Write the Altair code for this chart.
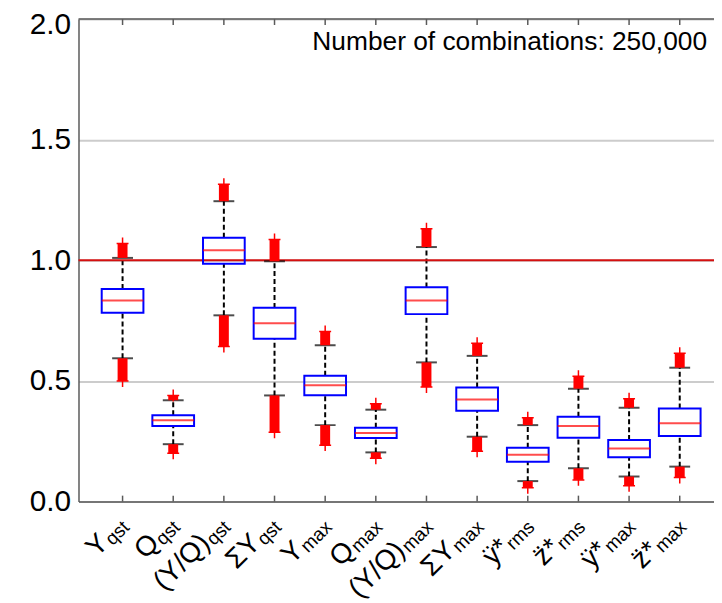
import altair as alt
import pandas as pd

# ---------------- data ----------------
main_labels = ["Y", "Q", "(Y/Q)", "ΣY", "Y", "Q", "(Y/Q)", "ΣY", "ÿ*", "z\u0308*", "ÿ*", "z\u0308*"]
sub_labels = ["qst", "qst", "qst", "qst", "max", "max", "max", "max", "rms", "rms", "max", "max"]
outlier_low = [0.50, 0.20, 0.643, 0.287, 0.234, 0.18, 0.475, 0.209, 0.057, 0.09, 0.066, 0.10]
whisker_low = [0.594, 0.238, 0.772, 0.44, 0.317, 0.204, 0.577, 0.269, 0.085, 0.138, 0.104, 0.145]
q1 = [0.783, 0.313, 0.986, 0.675, 0.441, 0.264, 0.777, 0.377, 0.165, 0.265, 0.184, 0.272]
median = [0.833, 0.337, 1.042, 0.739, 0.482, 0.284, 0.833, 0.423, 0.194, 0.313, 0.22, 0.325]
q3 = [0.881, 0.358, 1.094, 0.803, 0.522, 0.306, 0.888, 0.473, 0.223, 0.352, 0.255, 0.386]
whisker_high = [1.01, 0.42, 1.245, 0.996, 0.648, 0.381, 1.055, 0.604, 0.317, 0.468, 0.389, 0.555]
outlier_high = [1.07, 0.44, 1.315, 1.086, 0.705, 0.406, 1.131, 0.656, 0.348, 0.52, 0.426, 0.615]
y_ticks = [0.0, 0.5, 1.0, 1.5, 2.0]
reference_level = [1.0]
note = ["Number of combinations: 250,000"]

# ---------------- layout / style ----------------
W, H = 640, 486
TOP = 9
STEP = 51.82                      # pixels between categories
x_lo = 1 - 40 / STEP
x_hi = x_lo + W / STEP
FONT = "Arial, Liberation Sans, sans-serif"
AXIS_GRAY = "#5a5a5a"
MAIN_SIZE = 28
SUB_SIZE = 19
CHAR_EM = {"q": 0.556, "s": 0.5, "t": 0.278, "m": 0.833, "a": 0.556, "x": 0.5, "r": 0.333}

n = len(main_labels)
df = pd.DataFrame({
    "pos": list(range(1, n + 1)),
    "main": main_labels,
    "sub": sub_labels,
    "lo": outlier_low,
    "wl": whisker_low,
    "q1": q1,
    "med": median,
    "q3": q3,
    "wh": whisker_high,
    "hi": outlier_high,
})

xs = alt.Scale(domain=[x_lo, x_hi], nice=False, zero=False)
ys = alt.Scale(domain=[0, 2], nice=False, zero=False)
x_axis = alt.Axis(labels=False, ticks=False, grid=False, domain=True,
                  domainColor=AXIS_GRAY, domainWidth=1.5, title=None)
y_axis = alt.Axis(values=y_ticks, format=".1f", labelFontSize=30, labelFont=FONT,
                  labelColor="black", labelPadding=8, ticks=False, grid=True,
                  labelOffset=alt.condition("datum.value >= 2", alt.value(6), alt.value(0)),
                  gridColor="#cccccc", gridWidth=2, domain=True,
                  domainColor=AXIS_GRAY, domainWidth=1.5, title=None)
X = alt.X("pos:Q", scale=xs, axis=x_axis)


def Y(field):
    return alt.Y(field, scale=ys, axis=y_axis)


base = alt.Chart(df)

whisk_lo = base.mark_rule(color="black", strokeWidth=2, strokeDash=[5, 3]).encode(
    x=X, y=Y("wl:Q"), y2="q1:Q")
whisk_hi = base.mark_rule(color="black", strokeWidth=2, strokeDash=[5, 3]).encode(
    x=X, y=Y("q3:Q"), y2="wh:Q")

ref_line = alt.Chart(pd.DataFrame({"ref": reference_level})).mark_rule(
    color="#d41010", strokeWidth=2).encode(y=Y("ref:Q"))

boxes = base.mark_bar(width=42, fill="white", fillOpacity=0, stroke="#0000ff", strokeWidth=2).encode(
    x=X, y=Y("q1:Q"), y2="q3:Q")
medians = base.mark_tick(orient="horizontal", size=42, thickness=2, color="#ff0000").encode(
    x=X, y=Y("med:Q"))
cap_lo = base.mark_tick(orient="horizontal", size=21, thickness=2, color="black").encode(
    x=X, y=Y("wl:Q"))
cap_hi = base.mark_tick(orient="horizontal", size=21, thickness=2, color="black").encode(
    x=X, y=Y("wh:Q"))

out_lo = base.mark_bar(width=10, color="#ff0000").encode(x=X, y=Y("lo:Q"), y2="wl:Q")
out_hi = base.mark_bar(width=10, color="#ff0000").encode(x=X, y=Y("wh:Q"), y2="hi:Q")
PLUS = "M-1,0L1,0M0,-1L0,1"
plus_lo = base.mark_point(shape=PLUS, size=144, filled=False, stroke="#ff0000", strokeWidth=1.5,
                          opacity=1).encode(x=X, y=Y("lo:Q"))
plus_hi = base.mark_point(shape=PLUS, size=144, filled=False, stroke="#ff0000", strokeWidth=1.5,
                          opacity=1).encode(x=X, y=Y("hi:Q"))

one = alt.Chart(pd.DataFrame({"k": [0]}))
top_border = one.mark_rule(color=AXIS_GRAY, strokeWidth=1.5).encode(
    x=alt.value(0), x2=alt.value(W), y=alt.value(0))
ticks_top = base.mark_rule(color=AXIS_GRAY, strokeWidth=1.5).encode(
    x=X, y=alt.value(0), y2=alt.value(6))
ticks_bot = base.mark_rule(color=AXIS_GRAY, strokeWidth=1.5).encode(
    x=X, y=alt.value(H), y2=alt.value(H - 6))

note_text = alt.Chart(pd.DataFrame({"note": note})).mark_text(
    align="right", baseline="alphabetic", fontSize=26.5, font=FONT, color="black").encode(
    x=alt.value(633), y=alt.value(31), text="note:N")

# rotated tick labels with subscripts
c = 0.70710678
sx, sy = 8, 27                      # screen offset of subscript end from tick/axis
dx_sub = c * (sx - sy)
dy_sub = c * (sx + sy)
label_layers = []
for i in range(n):
    row = alt.Chart(df.iloc[[i]])
    w_sub = sum(CHAR_EM[ch] for ch in sub_labels[i]) * SUB_SIZE
    label_layers.append(row.mark_text(align="right", baseline="alphabetic", angle=315, fontSize=SUB_SIZE,
                                      font=FONT, color="black", dx=dx_sub, dy=dy_sub).encode(
        x=X, y=alt.value(H), text="sub:N"))
    label_layers.append(row.mark_text(align="right", baseline="alphabetic", angle=315, fontSize=MAIN_SIZE,
                                      font=FONT, color="black", dx=dx_sub - w_sub - 1,
                                      dy=dy_sub - 3).encode(
        x=X, y=alt.value(H), text="main:N"))

chart = alt.layer(
    whisk_lo, whisk_hi, ref_line, boxes, medians, cap_lo, cap_hi,
    out_lo, out_hi, plus_lo, plus_hi, top_border, ticks_top, ticks_bot, note_text,
    *label_layers,
).properties(
    width=W, height=H,
    autosize=alt.AutoSizeParams(type="none"),
    padding={"left": 71, "top": TOP, "right": 0, "bottom": 100},
).configure_view(strokeWidth=0)

chart.save("out.html", embed_options={"renderer": "svg", "actions": False})
